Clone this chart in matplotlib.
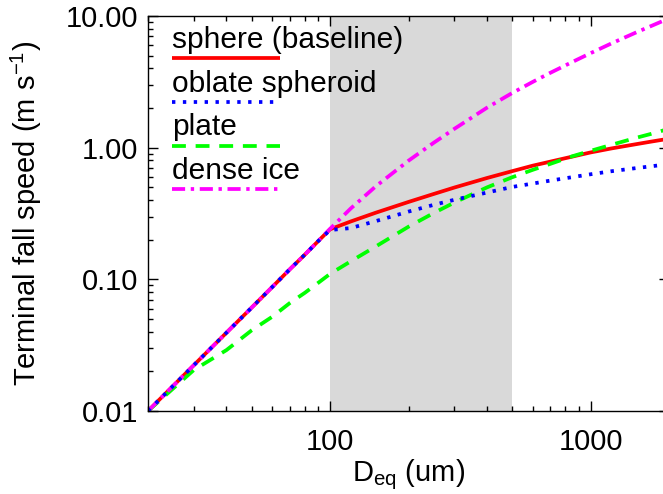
#!/usr/bin/env python3
"""Terminal fall speed vs equivalent diameter for a few ice particle shapes."""
import matplotlib
matplotlib.use('Agg')
import matplotlib.pyplot as plt
from matplotlib.ticker import FixedLocator, LogLocator, FormatStrFormatter, NullFormatter

plt.rcParams['font.family'] = ['Liberation Sans', 'DejaVu Sans']
plt.rcParams['mathtext.fontset'] = 'custom'
plt.rcParams['mathtext.rm'] = 'Liberation Sans'
plt.rcParams['mathtext.it'] = 'Liberation Sans:italic'
plt.rcParams['mathtext.bf'] = 'Liberation Sans:bold'

# equivalent diameter (um)
d_eq = [20, 30, 40, 50, 60, 70, 80, 90, 100, 120, 150, 200, 250, 300, 400, 500,
        600, 700, 850, 1000, 1200, 1500, 1700, 2000]

# terminal fall speed (m/s)
v_sphere = [0.010, 0.0223, 0.0393, 0.061, 0.0875, 0.119, 0.154, 0.195, 0.240,
            0.275, 0.321, 0.387, 0.445, 0.498, 0.588, 0.663,
            0.730, 0.783, 0.855, 0.920, 0.986, 1.064, 1.110, 1.170]
v_oblate = [0.010, 0.0223, 0.0393, 0.061, 0.0875, 0.119, 0.154, 0.195, 0.237,
            0.245, 0.277, 0.327, 0.368, 0.402, 0.456, 0.503,
            0.534, 0.562, 0.597, 0.628, 0.662, 0.700, 0.721, 0.750]
v_plate = [0.010, 0.0205, 0.029, 0.041, 0.052, 0.066, 0.079, 0.094, 0.110,
           0.137, 0.178, 0.251, 0.319, 0.383, 0.499, 0.596,
           0.679, 0.753, 0.860, 0.946, 1.050, 1.190, 1.270, 1.390]
v_dense = [0.010, 0.0223, 0.0393, 0.061, 0.0875, 0.119, 0.154, 0.195, 0.242,
           0.345, 0.510, 0.796, 1.090, 1.390, 2.010, 2.600,
           3.160, 3.700, 4.470, 5.220, 6.180, 7.520, 8.360, 9.600]

labels = ['sphere (baseline)', 'oblate spheroid', 'plate', 'dense ice']
colors = ['#ff0000', '#0000ff', '#00ff00', '#ff00ff']
styles = ['-', (0, (0.9, 2.0)), (0, (3.7, 2.6)), (0, (3.5, 1.5, 0.9, 1.5))]
zorders = [3, 6, 4, 5]

shade_lo, shade_hi = 100, 500

LW = 2.7
FS = 21


def main():
    fig = plt.figure(figsize=(6.63, 4.94), dpi=100)
    ax = fig.add_axes([148 / 663, 83 / 494, 521 / 663, 395 / 494])

    ax.axvspan(shade_lo, shade_hi, color='#d9d9d9', lw=0, zorder=1)

    series = [v_sphere, v_oblate, v_plate, v_dense]
    for vals, c, ls, z in zip(series, colors, styles, zorders):
        ax.plot(d_eq, vals, color=c, ls=ls, lw=LW, zorder=z, solid_capstyle='butt')

    ax.set_xscale('log')
    ax.set_yscale('log')
    ax.set_xlim(20, 2000)
    ax.set_ylim(0.01, 10)

    ax.xaxis.set_major_locator(FixedLocator([100, 1000]))
    ax.xaxis.set_major_formatter(FormatStrFormatter('%d'))
    ax.xaxis.set_minor_locator(LogLocator(base=10, subs=range(2, 10)))
    ax.xaxis.set_minor_formatter(NullFormatter())
    ax.yaxis.set_major_locator(FixedLocator([0.01, 0.1, 1, 10]))
    ax.yaxis.set_major_formatter(FormatStrFormatter('%.2f'))
    ax.yaxis.set_minor_locator(LogLocator(base=10, subs=range(2, 10)))
    ax.yaxis.set_minor_formatter(NullFormatter())

    ax.tick_params(which='both', direction='in', top=True, right=True, width=1)
    ax.tick_params(which='major', length=7, labelsize=FS)
    ax.tick_params(which='minor', length=3.5)
    ax.tick_params(axis='x', which='major', pad=12)
    ax.tick_params(axis='y', which='major', pad=7)
    for spine in ax.spines.values():
        spine.set_linewidth(1)
        spine.set_zorder(10)

    ax.set_ylabel('Terminal fall speed (m s$^{-1}$)', fontsize=FS)
    ax.yaxis.set_label_coords(-0.20, 0.5)
    ax.set_xlabel('D$_{\\rm eq}$ (um)', fontsize=FS)
    ax.xaxis.set_label_coords(0.5, -0.118)

    # IDL-style legend: label text with a line sample underneath
    for i, (lab, c, ls) in enumerate(zip(labels, colors, styles)):
        ty = 0.919 - i * 0.1106
        ax.text(0.046, ty, lab, transform=ax.transAxes, fontsize=FS + 0.5,
                va='baseline', ha='left', zorder=8)
        ax.plot([0.046, 0.253], [ty - 0.026, ty - 0.026], transform=ax.transAxes,
                color=c, ls=ls, lw=LW, zorder=8, solid_capstyle='butt')

    fig.savefig('out.png', dpi=100)


if __name__ == '__main__':
    main()
